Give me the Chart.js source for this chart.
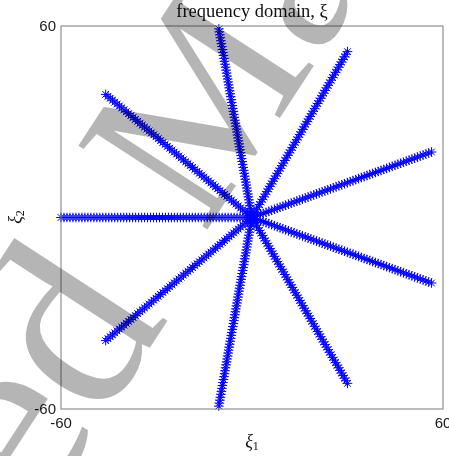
<!DOCTYPE html>
<html>
<head>
<meta charset="utf-8">
<title>frequency domain</title>
<script src="https://cdn.jsdelivr.net/npm/chart.js@4"></script>
<style>
    html, body { margin: 0; padding: 0; background: #ffffff; }
    #wrap { width: 449px; height: 456px; }
</style>
</head>
<body>
<div id="wrap"><canvas id="freqChart" width="449" height="456"></canvas></div>
<script>
// ===== DATA =====

// direction of each sampled ray, degrees
const rayAngles = [180, 140, 100, 60, 20, -20, -60, -100, -140];

// radius of every sample along a ray
const radialSamples = [
    0, 0.9375, 1.875, 2.8125, 3.75, 4.6875, 5.625, 6.5625, 7.5, 8.4375,
    9.375, 10.3125, 11.25, 12.1875, 13.125, 14.0625, 15, 15.9375, 16.875, 17.8125,
    18.75, 19.6875, 20.625, 21.5625, 22.5, 23.4375, 24.375, 25.3125, 26.25, 27.1875,
    28.125, 29.0625, 30, 30.9375, 31.875, 32.8125, 33.75, 34.6875, 35.625, 36.5625,
    37.5, 38.4375, 39.375, 40.3125, 41.25, 42.1875, 43.125, 44.0625, 45, 45.9375,
    46.875, 47.8125, 48.75, 49.6875, 50.625, 51.5625, 52.5, 53.4375, 54.375, 55.3125,
    56.25, 57.1875, 58.125, 59.0625, 60
];

const xTicks = [-60, 60];
const yTicks = [-60, 60];
const titleText = 'frequency domain, ξ';
const watermarkWords = ['Accepted', 'Manuscript'];

// ===== DATASETS =====

// polar samples -> cartesian (xi_1, xi_2)
function buildRayDatasets() {
    return rayAngles.map(deg => {
        const a = deg * Math.PI / 180;
        return {
            label: 'ray ' + deg,
            data: radialSamples.map(r => ({ x: r * Math.cos(a), y: r * Math.sin(a) })),
            showLine: false,
            pointStyle: 'star',
            pointRadius: 4.8,
            pointHoverRadius: 4.8,
            pointBorderWidth: 1,
            pointBorderColor: 'rgb(0, 0, 255)',
            pointBackgroundColor: 'rgba(0, 0, 0, 0)',
            clip: false
        };
    });
}

// ===== DECORATION (frame, text, watermark) =====

const decorPlugin = {
    id: 'decor',
    afterDraw(chart) {
        const ctx = chart.ctx;
        const area = chart.chartArea;
        const xs = chart.scales.x;
        const ys = chart.scales.y;

        ctx.save();

        // axes box
        ctx.strokeStyle = '#7a7a7a';
        ctx.lineWidth = 1;
        ctx.strokeRect(area.left, area.top, area.right - area.left, area.bottom - area.top);

        // tick labels
        ctx.fillStyle = '#1a1a1a';
        ctx.font = '15px "Liberation Sans", Arial, sans-serif';
        ctx.textBaseline = 'middle';
        ctx.textAlign = 'center';
        xTicks.forEach(v => ctx.fillText(String(v), xs.getPixelForValue(v), area.bottom + 15));
        ctx.textAlign = 'right';
        yTicks.forEach(v => ctx.fillText(String(v), area.left - 5, ys.getPixelForValue(v) + 1));

        // title
        const midX = (area.left + area.right) / 2;
        ctx.fillStyle = '#111111';
        ctx.textAlign = 'center';
        ctx.textBaseline = 'alphabetic';
        ctx.font = '18.5px "Liberation Serif", "Times New Roman", serif';
        ctx.fillText(titleText, midX, 17);

        // axis labels: xi_1 below, xi_2 rotated on the left
        drawXiLabel(ctx, '1', midX, 447, 0);
        drawXiLabel(ctx, '2', 21, 217, -Math.PI / 2);

        // watermark on top of everything, anchored at the "d"
        ctx.fillStyle = 'rgba(0, 0, 0, 0.29)';
        ctx.font = '250px "Liberation Serif", "Times New Roman", serif';
        ctx.textAlign = 'left';
        ctx.textBaseline = 'alphabetic';
        const lead = ctx.measureText('Accepte').width;
        const gap = ctx.measureText('Accepted ').width + 26;
        ctx.translate(101, 423);
        ctx.rotate(-57 * Math.PI / 180);
        ctx.fillText(watermarkWords[0], -lead, 0);
        ctx.font = '235px "Liberation Serif", "Times New Roman", serif';
        ctx.fillText(watermarkWords[1], -lead + gap, -16);

        ctx.restore();
    }
};

function drawXiLabel(ctx, sub, x, y, rot) {
    ctx.save();
    ctx.translate(x, y);
    ctx.rotate(rot);
    ctx.fillStyle = '#111111';
    ctx.textBaseline = 'alphabetic';
    ctx.textAlign = 'left';
    ctx.font = 'italic 18px "Liberation Serif", serif';
    const w = ctx.measureText('ξ').width;
    ctx.font = '12px "Liberation Serif", serif';
    const ws = ctx.measureText(sub).width;
    const x0 = -(w + ws) / 2;
    ctx.font = 'italic 18px "Liberation Serif", serif';
    ctx.fillText('ξ', x0, 0);
    ctx.font = '12px "Liberation Serif", serif';
    ctx.fillText(sub, x0 + w, 3);
    ctx.restore();
}

// ===== CHART =====

function initializeChart() {
    const el = document.getElementById('freqChart');
    if (!el) return;

    new Chart(el.getContext('2d'), {
        type: 'scatter',
        data: { datasets: buildRayDatasets() },
        options: {
            responsive: false,
            animation: false,
            events: [],
            layout: { padding: { top: 26, right: 6, left: 0, bottom: 0 } },
            plugins: {
                legend: { display: false },
                tooltip: { enabled: false },
                title: { display: false }
            },
            scales: {
                x: {
                    type: 'linear',
                    min: -60,
                    max: 60,
                    grid: { display: false },
                    border: { display: false },
                    ticks: { display: false },
                    afterFit: s => { s.height = 47; }
                },
                y: {
                    type: 'linear',
                    min: -60,
                    max: 60,
                    grid: { display: false },
                    border: { display: false },
                    ticks: { display: false },
                    afterFit: s => { s.width = 61; }
                }
            }
        },
        plugins: [decorPlugin]
    });
}

document.addEventListener('DOMContentLoaded', initializeChart);
</script>
</body>
</html>
